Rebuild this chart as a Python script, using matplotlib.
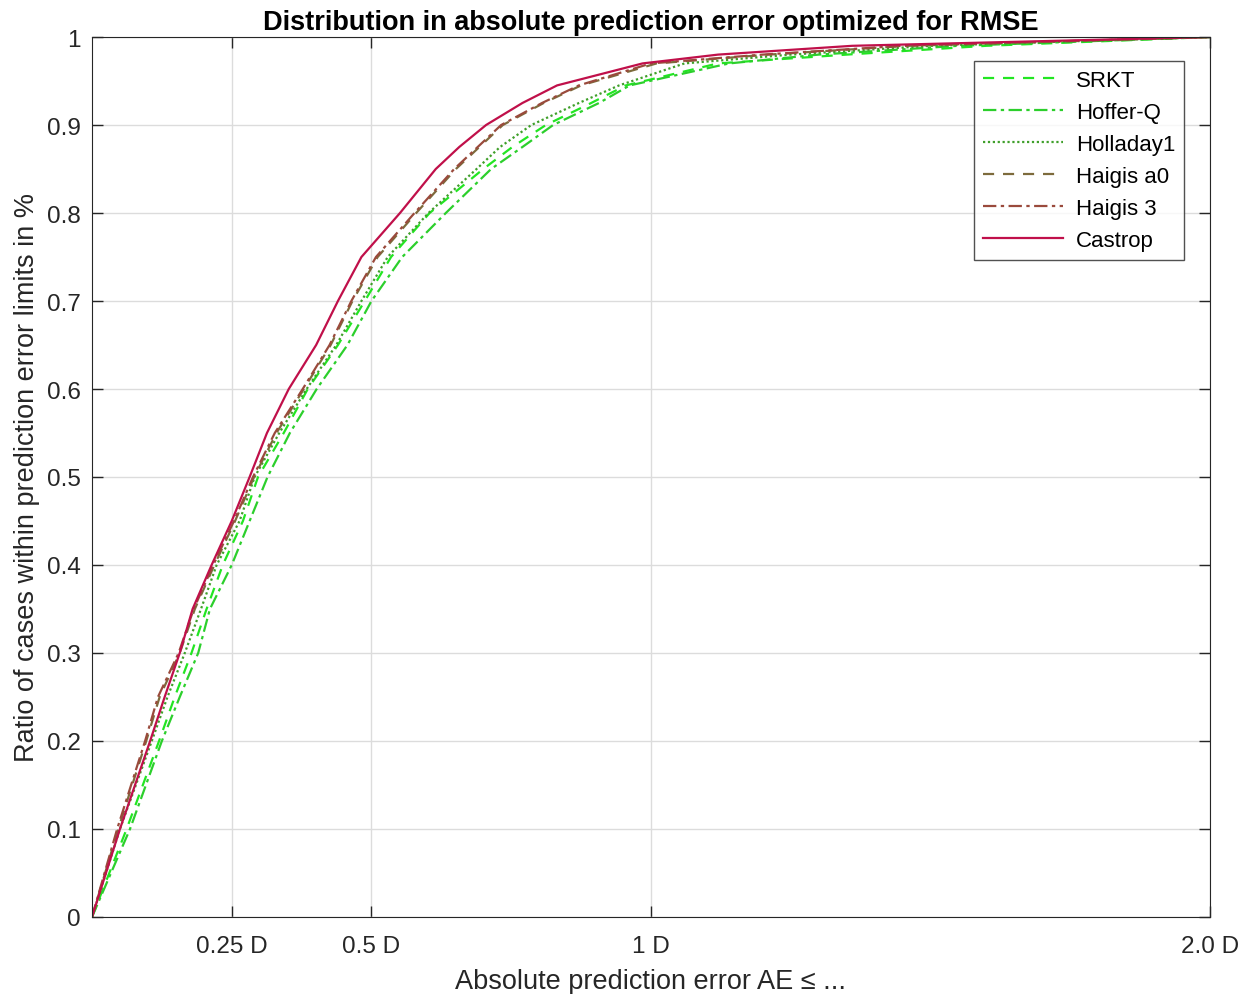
import matplotlib.pyplot as plt

plt.rcParams['font.family'] = ['Liberation Sans', 'DejaVu Sans']

# cumulative ratio levels and the absolute error (D) at which each formula reaches them
ratio = [0, 0.1, 0.2, 0.25, 0.3, 0.35, 0.4, 0.45, 0.5, 0.55, 0.6, 0.65,
         0.7, 0.75, 0.8, 0.85, 0.875, 0.9, 0.925, 0.945, 0.97, 0.98, 0.99, 1.0]

srkt = [0, 0.062, 0.12, 0.148, 0.178, 0.205, 0.234, 0.27, 0.297, 0.343, 0.386, 0.44,
        0.488, 0.535, 0.604, 0.70, 0.752, 0.812, 0.893, 0.955, 1.12, 1.35, 1.6, 2.0]
hofferq = [0, 0.068, 0.125, 0.157, 0.19, 0.211, 0.25, 0.282, 0.314, 0.354, 0.402, 0.457,
           0.5, 0.555, 0.633, 0.714, 0.77, 0.825, 0.907, 0.962, 1.14, 1.3, 1.55, 2.0]
holladay1 = [0, 0.05, 0.107, 0.135, 0.166, 0.195, 0.223, 0.264, 0.291, 0.335, 0.384, 0.437,
             0.482, 0.529, 0.602, 0.688, 0.73, 0.786, 0.871, 0.943, 1.06, 1.25, 1.5, 2.0]
haigis_a0 = [0, 0.047, 0.097, 0.121, 0.157, 0.184, 0.219, 0.256, 0.29, 0.33, 0.379, 0.427,
             0.466, 0.511, 0.58, 0.651, 0.693, 0.735, 0.808, 0.875, 1.01, 1.21, 1.46, 2.0]
haigis_3 = [0, 0.045, 0.095, 0.118, 0.155, 0.182, 0.217, 0.254, 0.288, 0.327, 0.377, 0.425,
            0.464, 0.508, 0.577, 0.648, 0.69, 0.732, 0.805, 0.871, 1.0, 1.2, 1.45, 2.0]
castrop = [0, 0.05, 0.104, 0.13, 0.157, 0.18, 0.214, 0.25, 0.282, 0.313, 0.352, 0.401,
           0.44, 0.482, 0.551, 0.615, 0.657, 0.705, 0.77, 0.832, 0.985, 1.12, 1.36, 2.0]

labels = ['SRKT', 'Hoffer-Q', 'Holladay1', 'Haigis a0', 'Haigis 3', 'Castrop']
x_ticks = [0.25, 0.5, 1, 2.0]
x_ticklabels = ['0.25 D', '0.5 D', '1 D', '2.0 D']
y_ticks = [0, 0.1, 0.2, 0.3, 0.4, 0.5, 0.6, 0.7, 0.8, 0.9, 1]
y_ticklabels = ['0', '0.1', '0.2', '0.3', '0.4', '0.5', '0.6', '0.7', '0.8', '0.9', '1']

fig = plt.figure(figsize=(12.55, 9.95), dpi=100)
ax = fig.add_axes([0.0733, 0.0774, 0.8908, 0.8844])

series = [srkt, hofferq, holladay1, haigis_a0, haigis_3, castrop]
colors = ['#22e622', '#2ccf2c', '#3f9f2a', '#7d6b3c', '#9a4a3c', '#c0104a']
styles = [(0, (5, 4)), (0, (6, 2, 1.5, 2)), (0, (1, 1.2)), (0, (5, 4)),
          (0, (6, 2, 1.5, 2)), '-']

for vals, lab, c, ls in zip(series, labels, colors, styles):
    ax.plot(vals, ratio, color=c, linestyle=ls, linewidth=1.6, label=lab)

ax.set_xlim(0, 2)
ax.set_ylim(0, 1)
ax.set_xticks(x_ticks)
ax.set_xticklabels(x_ticklabels)
ax.set_yticks(y_ticks)
ax.set_yticklabels(y_ticklabels)
ax.tick_params(direction='in', top=True, right=True, length=8, width=1,
               labelsize=17.5, colors='#262626')
ax.tick_params(axis='x', pad=13)
ax.tick_params(axis='y', pad=8)
ax.grid(True, color='#dcdcdc', linewidth=1)
for s in ax.spines.values():
    s.set_color('#262626')

ax.set_title('Distribution in absolute prediction error optimized for RMSE',
             fontsize=19.5, fontweight='bold', pad=6)
ax.set_xlabel('Absolute prediction error AE ≤ ...', fontsize=19.5, color='#262626',
              labelpad=8)
ax.set_ylabel('Ratio of cases within prediction error limits in %', fontsize=19.5,
              color='#262626', labelpad=5)

leg = ax.legend(loc='upper right', bbox_to_anchor=(0.977, 0.973), borderaxespad=0,
                fontsize=16, handlelength=3.6, frameon=True, fancybox=False,
                borderpad=0.4, labelspacing=0.5, handletextpad=0.6)
leg.get_frame().set_edgecolor('#262626')
leg.get_frame().set_linewidth(1)

fig.savefig('out.png', dpi=100)
